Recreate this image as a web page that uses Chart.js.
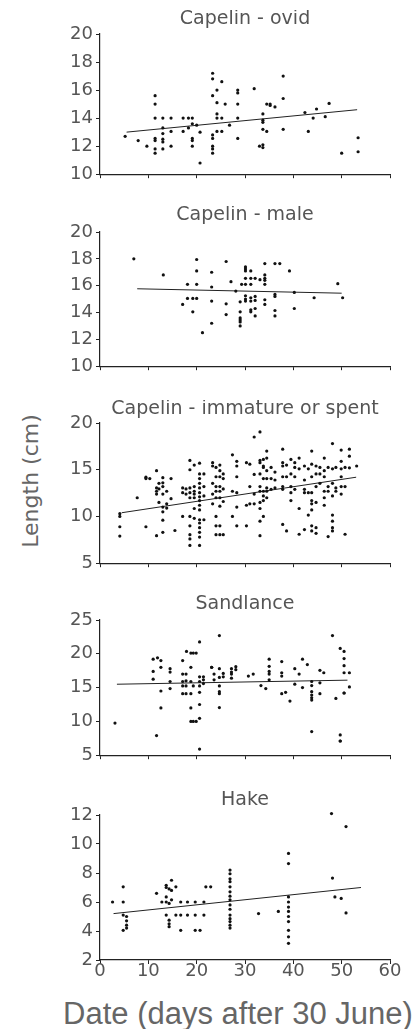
<!DOCTYPE html>
<html>
<head>
<meta charset="utf-8">
<script src="https://cdn.jsdelivr.net/npm/chart.js@4.4.0/dist/chart.umd.min.js"></script>
<style>
  body { margin: 0; background: #fff; width: 419px; height: 1029px; overflow: hidden; position: relative; font-family: "DejaVu Sans", sans-serif; }
  canvas { position: absolute; left: 0; }
  #ylab { position: absolute; left: 30px; top: 481px; transform: translate(-50%, -50%) rotate(-90deg); font-size: 22px; color: #666; white-space: nowrap; }
  #xlab { position: absolute; left: 238px; top: 1014px; transform: translate(-50%, -50%); font-family: "Liberation Sans", sans-serif; font-size: 31px; color: #666; white-space: nowrap; }
</style>
</head>
<body>
<div id="ylab">Length (cm)</div>
<div id="xlab">Date (days after 30 June)</div>
<canvas id="p1" width="419" height="178" style="top:10px"></canvas>
<canvas id="p2" width="419" height="174" style="top:206px"></canvas>
<canvas id="p3" width="419" height="177" style="top:400px"></canvas>
<canvas id="p4" width="419" height="174" style="top:595px"></canvas>
<canvas id="p5" width="419" height="190" style="top:791px"></canvas>
<script>
// Days after 30 June, with the lengths (cm) measured on each day
const ovidDays = [5.2, 7.9, 9.7, 11.4, 13.0, 14.7, 17.2, 18.3, 19.1, 20.0, 20.7, 23.3, 24.2, 25.2, 25.9, 26.8, 28.5,
  31.9, 33.0, 33.7, 34.5, 35.2, 36.2, 37.9, 42.4, 43.1, 44.1, 44.8, 46.6, 47.4, 50.0, 53.4];
const ovidLengths = [[12.7], [12.4], [12.0], [15.6, 15.0, 14.0, 12.55, 12.4, 11.8, 11.5], [14.0, 13.3, 12.9, 12.5, 12.3, 11.8],
  [14.0, 13.05, 12.0], [14.0, 13.05], [14.0, 13.3], [14.0, 13.6, 12.55, 12.4, 12.0], [13.5], [10.8, 13.0],
  [17.2, 16.8, 15.6, 12.8, 12.55, 12.0, 11.8, 11.5], [16.0, 15.1, 14.3, 14.0, 13.05], [16.6, 14.0, 13.05], [15.0], [13.5],
  [16.0, 15.8, 15.0, 14.0, 12.55], [16.1], [12.0], [14.3, 13.85, 13.7, 13.2, 12.1, 11.9], [15.0, 13.05], [15.0, 14.9],
  [14.8], [15.4, 17.0, 13.2], [14.4], [13.05], [14.0], [14.65], [14.1], [15.05], [11.5], [12.6, 11.6]];
const ovidFitDays = [5.5, 53.2];
const ovidFitLengths = [13.0, 14.6];

const maleDays = [7.0, 13.1, 17.1, 18.1, 19.2, 20.0, 21.2, 23.1, 26.1, 27.1, 28.1, 29.0, 29.3, 30.1, 31.2, 32.1, 33.1,
  34.1, 36.2, 37.2, 39.2, 40.2, 44.3, 49.2, 50.2];
const maleLengths = [[18.0], [16.8], [14.6], [16.1, 15.05], [14.05, 15.05], [17.95, 17.1, 16.1, 15.05], [12.5],
  [17.0, 15.9, 14.85, 13.2], [17.8, 14.65, 13.85], [16.3], [15.6], [14.8, 14.05, 13.6, 13.45, 13.3, 13.0], [16.1],
  [17.4, 17.25, 17.1, 16.55, 16.1, 15.25, 15.0, 14.85], [17.1, 16.55, 16.1, 15.1, 14.85, 14.2, 14.05],
  [16.55, 15.2, 14.9, 14.3, 13.75], [16.45], [17.65, 16.8, 16.55, 16.4, 16.1, 14.95, 14.6],
  [17.65, 15.35, 15.2, 14.15, 13.75], [17.65], [17.1], [15.5, 14.3], [15.1], [16.15], [15.1]];
const maleFitDays = [7.7, 50.0];
const maleFitLengths = [15.77, 15.44];

const immDays = [4.1, 7.7, 9.5, 10.3, 11.7, 12.2, 13.0, 13.8, 14.7, 15.5, 17.1, 17.8, 18.6, 19.5, 20.6, 21.5, 23.3,
  24.0, 24.8, 25.5, 27.4, 28.3, 30.3, 31.0, 31.9, 33.1, 33.8, 34.5, 35.4, 36.2, 37.8, 38.6, 39.5, 40.3, 41.2, 42.3,
  43.1, 43.8, 44.7, 45.5, 46.4, 47.2, 48.1, 48.8, 49.9, 50.7, 51.6, 53.1];
const immLengths = [[10.0, 8.9, 7.9, 10.3], [12.0], [14.2, 14.05, 8.9], [14.05], [14.9, 13.05, 12.7, 12.4, 7.95],
  [13.55, 12.95, 11.5], [14.15, 13.6, 13.2, 12.4, 11.0, 10.5, 9.6, 8.3], [12.7, 11.35, 10.9], [14.05, 11.9], [8.5],
  [13.05, 12.55, 10.0], [12.95, 12.4], [16.0, 15.0, 13.05, 12.55, 12.0, 10.0, 9.0, 8.05, 7.6, 6.9],
  [15.5, 13.2, 12.7, 12.4, 12.0, 10.85, 9.8],
  [15.7, 14.55, 14.05, 13.55, 13.05, 12.55, 12.1, 11.7, 11.2, 10.7, 9.65, 9.3, 8.8, 8.3, 7.8, 6.9],
  [14.55, 13.2, 12.2, 9.65], [15.75, 15.4, 13.55, 12.4, 11.35], [15.25, 14.25, 13.2, 12.7, 12.0, 10.0, 9.0, 8.05],
  [15.5, 14.9, 14.25, 13.2, 12.7, 12.0, 11.1, 9.0, 8.05], [14.55, 14.05, 12.95, 11.6, 8.05], [16.6, 12.7, 10.0],
  [15.9, 15.4, 14.25, 12.55, 11.0, 9.0], [15.75, 11.2, 9.0], [15.6, 11.35, 13.2], [18.5, 14.5, 12.4, 11.35],
  [19.05, 16.0, 15.75, 14.55, 13.2, 12.7, 11.5, 10.85, 9.5, 7.95], [16.1, 15.4, 15.25, 14.05, 12.7, 12.2, 11.7, 10.0],
  [17.0, 16.25, 14.9, 14.05, 13.05, 12.7, 12.0], [15.25, 14.05, 12.9], [14.75, 13.9, 13.05],
  [17.2, 15.75, 15.4, 14.25, 13.2, 12.9, 9.15], [15.5, 14.25, 8.45], [16.1, 14.55, 13.2, 12.55, 11.7],
  [15.75, 15.25, 14.25, 12.9], [16.25, 15.1, 10.85, 8.1], [15.4, 13.9, 12.9, 12.55, 8.6], [15.1, 12.55, 10.15],
  [17.0, 15.6, 14.25, 12.55, 11.7, 11.35, 10.7, 9.0, 8.45], [15.4, 14.55, 13.2, 11.5, 8.8, 8.2], [15.25, 14.55, 13.55],
  [16.25, 14.9, 14.25, 12.7, 12.0, 11.2], [15.25, 13.2, 12.7, 7.85], [17.8, 15.1, 13.55, 12.2, 10.15, 9.5, 8.8, 8.45],
  [15.25, 13.05, 12.7], [17.1, 15.9, 15.1, 14.25, 13.2, 12.4], [15.25, 13.2, 8.1], [17.2, 16.45, 15.2], [15.4]];
const immFitDays = [4.5, 53.0];
const immFitLengths = [10.4, 14.2];

const sandDays = [3.1, 11.0, 11.7, 11.9, 12.6, 14.5, 17.1, 17.8, 17.9, 18.8, 19.3, 19.9, 20.6, 21.4, 23.1, 23.6, 24.7,
  25.5, 27.2, 28.1, 30.7, 31.7, 33.3, 34.3, 35.0, 37.6, 38.4, 39.3, 40.3, 41.2, 41.9, 42.9, 43.8, 45.5, 46.3, 48.1,
  48.8, 49.7, 50.5, 51.6];
const sandLengths = [[9.75], [19.2, 17.4, 16.25], [7.9], [19.4], [19.0, 18.0, 14.5, 12.0], [17.8, 17.3, 15.9, 14.85],
  [19.0, 17.0, 15.9, 15.25, 14.1], [17.0, 15.25, 14.1, 16.0], [20.35], [20.1, 18.0, 15.9, 14.1, 12.0, 10.0],
  [20.1, 10.0, 15.25], [20.1, 10.0], [21.75, 16.6, 15.9, 15.25, 14.3, 12.5, 10.45, 5.9], [16.6, 16.15, 15.6],
  [18.0, 18.0], [17.0, 16.15], [22.7, 17.8, 16.5, 15.25, 14.4, 14.1, 12.05], [17.1, 16.6], [17.8, 17.3, 17.0, 16.4],
  [18.1, 17.65], [16.7], [17.0], [15.3], [14.85], [19.2, 18.15, 17.4, 17.0, 16.15], [18.85, 17.2, 16.7, 14.1],
  [14.3], [13.0], [17.8, 15.5], [17.0], [15.0, 19.2], [18.4], [15.9, 15.3, 14.4, 13.9, 13.5, 13.15, 8.5],
  [15.7, 14.1, 17.55], [17.2], [22.7], [13.4], [20.8, 8.0, 7.1, 7.1], [20.35, 19.3, 18.25, 17.2, 14.2, 14.2],
  [17.2, 15.1]];
const sandFitDays = [3.5, 51.2];
const sandFitLengths = [15.5, 16.1];

const hakeDays = [2.6, 4.8, 5.5, 11.7, 12.8, 13.7, 14.3, 14.8, 15.7, 16.7, 18.1, 19.7, 20.7, 21.5, 21.9, 22.9, 26.9,
  32.8, 36.9, 39.0, 47.9, 48.1, 48.6, 49.9, 50.9];
const hakeLengths = [[6.0], [7.05, 6.0, 5.1, 4.05], [5.0, 4.7, 4.4, 4.2], [6.6], [6.0], [7.15, 7.0, 6.35, 6.0, 5.1],
  [6.9, 5.9, 4.75, 4.5, 4.3], [7.5, 6.8, 6.15], [7.05, 5.1], [6.0, 5.1, 4.05], [6.0, 5.1], [6.0, 5.1, 4.05], [4.05],
  [6.0, 5.1], [7.05], [7.05],
  [8.2, 7.95, 7.6, 7.4, 7.05, 6.7, 6.4, 6.15, 5.8, 5.5, 5.1, 4.85, 4.65, 4.4, 4.2], [5.2], [5.35],
  [8.65, 9.35, 6.35, 6.0, 5.65, 5.35, 5.0, 4.65, 4.05, 3.6, 3.15], [12.1], [7.65], [6.35], [6.25], [11.2, 5.25]];
const hakeFitDays = [2.8, 54.0];
const hakeFitLengths = [5.2, 7.0];

const dayTicks = [0, 10, 20, 30, 40, 50, 60];

const ink = '#222';
const textColor = '#555';

function toPoints(days, lengths) {
  const pts = [];
  days.forEach((d, i) => lengths[i].forEach(v => pts.push({ x: d, y: v })));
  return pts;
}

function makePanel(id, title, days, lengths, fitDays, fitLengths, yMin, yMax, yStep, titleGap, last) {
  new Chart(document.getElementById(id), {
    type: 'scatter',
    data: {
      datasets: [{
        data: toPoints(days, lengths),
        backgroundColor: '#111',
        borderWidth: 0,
        pointRadius: 1.6,
        clip: false
      }, {
        type: 'line',
        data: fitDays.map((d, i) => ({ x: d, y: fitLengths[i] })),
        borderColor: ink,
        borderWidth: 1,
        pointRadius: 0,
        fill: false
      }]
    },
    options: {
      responsive: false,
      animation: false,
      layout: { padding: { left: 0, right: 29, top: 0, bottom: 0 } },
      plugins: {
        legend: { display: false },
        tooltip: { enabled: false },
        title: {
          display: true,
          text: title,
          fullSize: false,
          color: textColor,
          font: { family: 'DejaVu Sans', size: 19, weight: 'normal', lineHeight: 1 },
          padding: { top: 0, bottom: titleGap }
        }
      },
      scales: {
        x: {
          type: 'linear',
          min: 0,
          max: 60,
          afterBuildTicks: axis => { axis.ticks = dayTicks.map(v => ({ value: v })); },
          afterFit: axis => { axis.height = last ? 21 : 6; },
          grid: { display: true, drawOnChartArea: false, drawTicks: true, tickLength: 4, color: ink },
          border: { display: true, color: ink, width: 1.2 },
          ticks: {
            display: last,
            color: textColor,
            padding: -2,
            font: { family: 'DejaVu Sans', size: 18, lineHeight: 1 }
          }
        },
        y: {
          min: yMin,
          max: yMax,
          afterFit: axis => { axis.width = 100; },
          grid: { display: true, drawOnChartArea: false, drawTicks: true, tickLength: 4, color: ink },
          border: { display: true, color: ink, width: 1.2 },
          ticks: {
            stepSize: yStep,
            color: textColor,
            padding: 3,
            font: { family: 'DejaVu Sans', size: 18 }
          }
        }
      }
    }
  });
}

makePanel('p1', 'Capelin - ovid', ovidDays, ovidLengths, ovidFitDays, ovidFitLengths, 10, 20, 2, 5, false);
makePanel('p2', 'Capelin - male', maleDays, maleLengths, maleFitDays, maleFitLengths, 10, 20, 2, 7, false);
makePanel('p3', 'Capelin - immature or spent', immDays, immLengths, immFitDays, immFitLengths, 5, 20, 5, 4, false);
makePanel('p4', 'Sandlance', sandDays, sandLengths, sandFitDays, sandFitLengths, 5, 25, 5, 6, false);
makePanel('p5', 'Hake', hakeDays, hakeLengths, hakeFitDays, hakeFitLengths, 2, 12, 2, 5, true);
</script>
</body>
</html>
